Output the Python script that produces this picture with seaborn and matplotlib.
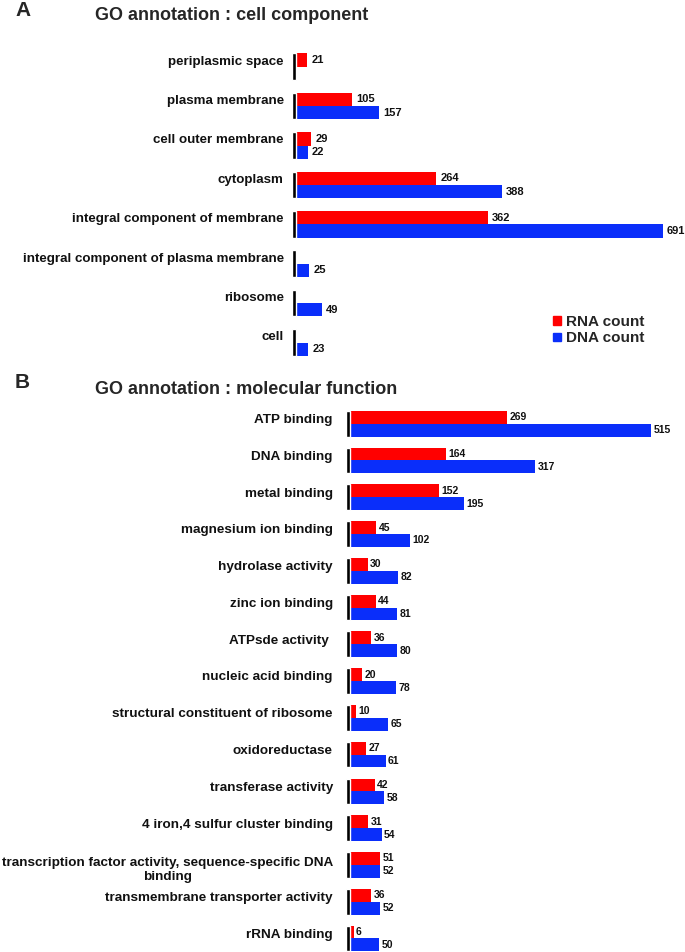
import numpy as np
import pandas as pd
import seaborn as sns
from matplotlib import pyplot as plt
from matplotlib.transforms import ScaledTranslation

# Panel A: GO cell component
cc_terms = ['periplasmic space', 'plasma membrane', 'cell outer membrane', 'cytoplasm',
            'integral component of membrane', 'integral component of plasma membrane',
            'ribosome', 'cell']
cc_rna = [21, 105, 29, 264, 362, np.nan, np.nan, np.nan]
cc_dna = [np.nan, 157, 22, 388, 691, 25, 49, 23]

# Panel B: GO molecular function
mf_terms = ['ATP binding', 'DNA binding', 'metal binding', 'magnesium ion binding',
            'hydrolase activity', 'zinc ion binding', 'ATPsde activity ',
            'nucleic acid binding', 'structural constituent of ribosome', 'oxidoreductase',
            'transferase activity', '4 iron,4 sulfur cluster binding',
            'transcription factor activity, sequence-specific DNA\nbinding',
            'transmembrane transporter activity', 'rRNA binding']
mf_rna = [269, 164, 152, 45, 30, 44, 36, 20, 10, 27, 42, 31, 51, 36, 6]
mf_dna = [515, 317, 195, 102, 82, 81, 80, 78, 65, 61, 58, 54, 52, 52, 50]

series = ['RNA count', 'DNA count']
colors = {'RNA count': '#FF0000', 'DNA count': '#0A2EFA'}

sns.set_theme(style='white')
plt.rcParams['font.family'] = ['Liberation Sans', 'DejaVu Sans']

W, H = 685, 952
fig = plt.figure(figsize=(W / 100, H / 100), dpi=100)


def make_df(terms, rna, dna):
    df = pd.DataFrame({'term': terms, 'RNA count': rna, 'DNA count': dna})
    df = df.melt(id_vars='term', var_name='series', value_name='count')
    return df.dropna()


def draw_panel(ax, terms, rna, dna, xmin, xmax, width, tick_shift, pad, tick_size,
               label_size, label_pad):
    df = make_df(terms, rna, dna)
    sns.barplot(data=df, y='term', x='count', hue='series', order=terms, hue_order=series,
                palette=colors, orient='h', width=width, dodge=True, saturation=1,
                edgecolor='none', linewidth=0, legend=False, ax=ax)
    # black stub at the base of each group
    pos = np.arange(len(terms))
    ax.barh(pos, width=-xmin, left=xmin, height=width, color='black', zorder=3)
    for cont in ax.containers[:2]:
        ax.bar_label(cont, fmt='%d', padding=label_pad, fontsize=label_size,
                     fontweight='bold', color='#111111')
    ax.set_xlim(xmin, xmax)
    ax.set_yticks(pos - tick_shift)
    ax.set_yticklabels(terms, fontsize=tick_size, fontweight='bold', multialignment='center')
    ax.tick_params(axis='y', length=0, pad=pad, colors='#111111')
    ax.set_xticks([])
    ax.set_xlabel('')
    ax.set_ylabel('')
    for s in ax.spines.values():
        s.set_visible(False)
    return ax


# Panel A axes
axA = fig.add_axes([292 / W, 1 - 362.2 / H, (678 - 292) / W, (362.2 - 47) / H])
draw_panel(axA, cc_terms, cc_rna, cc_dna, -7.5, (678 - 296) / 0.5307, 0.68, 0.17, 6, 9.6, 8, 3)
axA.set_ylim(len(cc_terms) - 0.5, -0.5)

# Panel B axes
axB = fig.add_axes([346 / W, 0, (678 - 346) / W, (952 - 405.3) / H])
draw_panel(axB, mf_terms, mf_rna, mf_dna, -6.85, (678 - 350) / 0.584, 0.70, 0.14, 9.5, 9.7, 7.5, 1.8)
axB.set_ylim(-0.5 + (952 - 405.3) / 36.77, -0.5)

# two-line label sits a little lower in the original
shift = ScaledTranslation(0, -8 / 100, fig.dpi_scale_trans)
for tick in axB.yaxis.get_major_ticks():
    if '\n' in tick.label1.get_text():
        tick.label1.set_transform(tick.label1.get_transform() + shift)

# panel letters and titles
fig.text(15 / W, 1 - 11 / H, 'A', fontsize=15, fontweight='bold', va='center')
fig.text(95 / W, 1 - 16 / H, 'GO annotation : cell component', fontsize=13,
         fontweight='bold', va='center')
fig.text(15 / W, 1 - 383 / H, 'B', fontsize=15, fontweight='bold', va='center')
fig.text(95 / W, 1 - 389 / H, 'GO annotation : molecular function', fontsize=13,
         fontweight='bold', va='center')

# legend
handles = [plt.Rectangle((0, 0), 1, 1, color=colors[s]) for s in series]
fig.legend(handles, series, loc='upper left', bbox_to_anchor=(553 / W, 1 - 315 / H),
           frameon=False, prop={'weight': 'bold', 'size': 11},
           handlelength=0.55, handleheight=0.45, handletextpad=0.3,
           labelspacing=0.15, borderpad=0, borderaxespad=0)

fig.savefig('out.png', dpi=100)
